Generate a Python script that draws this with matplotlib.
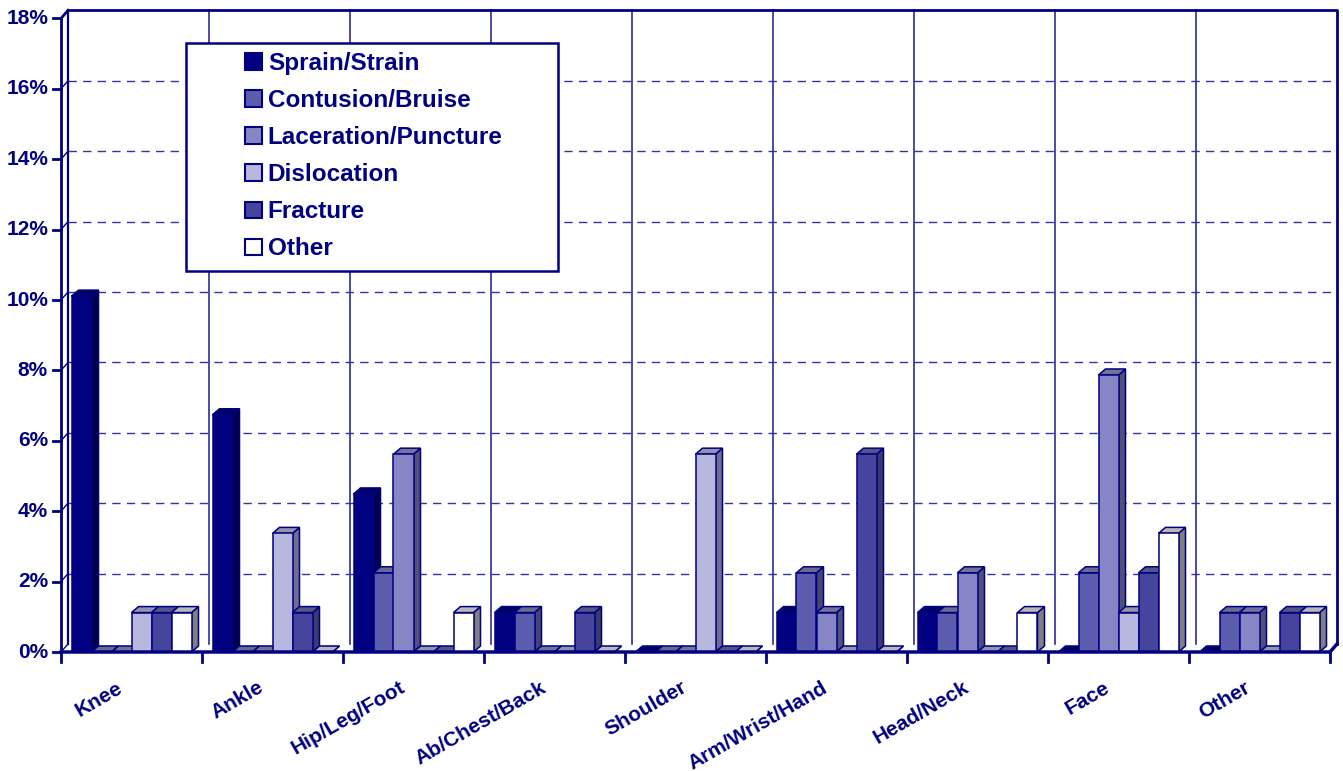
import matplotlib.pyplot as plt
from matplotlib.patches import Rectangle, Patch

plt.rcParams['font.family'] = ['Liberation Sans', 'DejaVu Sans']
plt.rcParams['font.weight'] = 'bold'

NAVY = '#000080'

categories = ['Knee', 'Ankle', 'Hip/Leg/Foot', 'Ab/Chest/Back', 'Shoulder',
              'Arm/Wrist/Hand', 'Head/Neck', 'Face', 'Other']
series = ['Sprain/Strain', 'Contusion/Bruise', 'Laceration/Puncture',
          'Dislocation', 'Fracture', 'Other']

# percent of injuries, per category
sprain = [10.11, 6.74, 4.49, 1.12, 0, 1.12, 1.12, 0, 0]
contusion = [0, 0, 2.25, 1.12, 0, 2.25, 1.12, 2.25, 1.12]
laceration = [0, 0, 5.62, 0, 0, 1.12, 2.25, 7.87, 1.12]
dislocation = [1.12, 3.37, 0, 0, 5.62, 0, 0, 1.12, 0]
fracture = [1.12, 1.12, 0, 1.12, 0, 5.62, 0, 2.25, 1.12]
other = [1.12, 0, 1.12, 0, 0, 0, 1.12, 3.37, 1.12]
values = [sprain, contusion, laceration, dislocation, fracture, other]

yticks = [0, 2, 4, 6, 8, 10, 12, 14, 16, 18]

front_colors = ['#000080', '#5c5cae', '#8686c6', '#b8b8de', '#45459e', '#ffffff']
side_colors = ['#00004a', '#45457a', '#50507c', '#6e6e92', '#3a3a6c', '#808080']
top_colors = ['#000066', '#6a6a90', '#74749a', '#9494aa', '#55558a', '#b8b8b8']

W, H = 1343, 771
fig = plt.figure(figsize=(W / 100, H / 100), dpi=100)
ax = fig.add_axes([61 / W, (H - 652) / H, 1269 / W, 633.6 / H])
ax.set_xlim(0, 9)
ax.set_ylim(0, 18)
ax.axis('off')

px_x = 9 / 1269
px_y = 18 / 633.6
dx, dy = 7 * px_x, 8 * px_y     # wall depth
bdx, bdy = 7 * px_x, 6 * px_y   # bar depth

# back wall grid
for v in yticks[1:-1]:
    ax.plot([dx, 9 + dx], [v + dy, v + dy], color='#3434a0', lw=1,
            dashes=(6, 4.5), zorder=1, clip_on=False)
for i in range(1, 9):
    ax.plot([i + dx, i + dx], [dy, 18 + dy], color='#2c2c96', lw=1.2,
            zorder=1, clip_on=False)
ax.plot([dx, 9 + dx, 9 + dx], [18 + dy, 18 + dy, dy], color=NAVY, lw=2,
        zorder=1, clip_on=False)

# left wall
ax.plot([dx, dx], [dy, 18 + dy], color=NAVY, lw=1.6, zorder=1, clip_on=False)
ax.plot([0, 0], [0, 18], color=NAVY, lw=2, zorder=200, clip_on=False)
ax.plot([0, dx], [18, 18 + dy], color=NAVY, lw=2, zorder=200, clip_on=False)
for v in yticks:
    ax.plot([-8 * px_x, 0], [v, v], color=NAVY, lw=2, zorder=200, clip_on=False)
    ax.plot([0, dx], [v, v + dy], color=NAVY, lw=1, zorder=1, clip_on=False)
    ax.text(-13 * px_x, v, f'{v}%', ha='right', va='center', color=NAVY,
            fontsize=15, fontweight='bold')

# bars with pseudo 3D faces
gap = 10.5 / 141
bw = 20 / 141
z = 3
for i in range(len(categories)):
    for k in range(len(series)):
        h = values[k][i]
        x0 = i + gap + k * bw
        x1 = x0 + bw
        ax.fill([x1, x1 + bdx, x1 + bdx, x1], [0, bdy, h + bdy, h],
                facecolor=side_colors[k], edgecolor=NAVY, lw=1.1, zorder=z)
        ax.fill([x0, x0 + bdx, x1 + bdx, x1], [h, h + bdy, h + bdy, h],
                facecolor=top_colors[k], edgecolor=NAVY, lw=1.1, zorder=z + 1)
        if h > 0:
            ax.bar(x0, h, width=bw, align='edge', color=front_colors[k],
                   edgecolor=NAVY, lw=1.1, zorder=z + 2)
        z += 3

# floor line and category ticks
ax.plot([0, 9, 9 + dx], [0, 0, dy], color=NAVY, lw=2.5, zorder=z + 1,
        clip_on=False)
for i in range(10):
    ax.plot([i, i], [0, -10 * px_y], color=NAVY, lw=2, zorder=z + 1,
            clip_on=False)

for i, c in enumerate(categories):
    ax.text(i + 0.5 - 15 * px_x, -26 * px_y, c, rotation=30,
            rotation_mode='anchor', ha='right', va='top', color=NAVY,
            fontsize=15, fontweight='bold')

# legend
fig.patches.append(Rectangle((186 / W, 1 - 271 / H), 372 / W, 228 / H,
                             transform=fig.transFigure, facecolor='white',
                             edgecolor=NAVY, lw=1.8, zorder=5))
handles = [Patch(facecolor=front_colors[k], edgecolor=NAVY, lw=1.5)
           for k in range(len(series))]
leg = fig.legend(handles, series, loc='upper left',
                 bbox_to_anchor=(245 / W, 1 - 52 / H),
                 bbox_transform=fig.transFigure, frameon=False,
                 borderpad=0, borderaxespad=0, handlelength=0.68,
                 handleheight=0.68, handletextpad=0.26, labelspacing=0.58,
                 prop={'size': 17.5, 'weight': 'bold'}, labelcolor=NAVY)
leg.set_zorder(6)

fig.savefig('out.png', dpi=100)
